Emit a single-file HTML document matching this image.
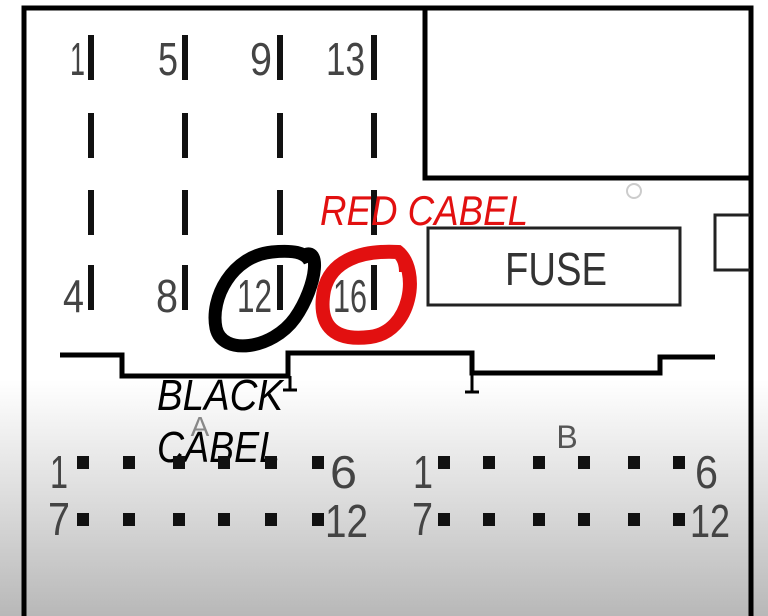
<!DOCTYPE html>
<html><head><meta charset="utf-8"><style>
html,body{margin:0;padding:0;width:768px;height:616px;overflow:hidden}
body{background:linear-gradient(to bottom,#fff 0px,#fff 380px,#dcdcdc 500px,#b8b8b8 616px)}
svg{position:absolute;left:0;top:0}
.n{font-family:"Liberation Sans",sans-serif;font-size:46px;fill:#444}
</style></head><body>
<svg width="768" height="616" viewBox="0 0 768 616">
<g stroke="#000" fill="none">
<path d="M24 620 V8 H751 V620" stroke-width="5"/>
<path d="M425 8 V178 H751" stroke-width="5"/>
<rect x="428" y="228" width="252" height="77" stroke-width="3" stroke="#222"/>
<path d="M750 215 H715 V270 H750" stroke-width="3" stroke="#222"/>
<path d="M60 355 H122 V376 H288 V353 H472 V373 H660 V357 H715" stroke-width="5"/>
<path d="M290 376 V390 M283 390 H297 M472 373 V392 M465 392 H479" stroke-width="3"/>
</g>
<circle cx="634" cy="191" r="7" fill="none" stroke="#ccc" stroke-width="2"/>
<g stroke="#111" stroke-width="6">
<path d="M91 35V80M185 35V80M280 35V80M374 35V80"/>
<path d="M91 113V158M185 113V158M280 113V158M374 113V158"/>
<path d="M91 190V235M185 190V235M280 190V235M374 190V235"/>
<path d="M91 265V310M185 265V310M280 265V310M374 265V310"/>
</g>
<g class="n" lengthAdjust="spacingAndGlyphs">
<text x="70" y="75" textLength="15" lengthAdjust="spacingAndGlyphs">1</text>
<text x="158" y="75" textLength="20" lengthAdjust="spacingAndGlyphs">5</text>
<text x="250" y="75" textLength="22" lengthAdjust="spacingAndGlyphs">9</text>
<text x="326" y="75" textLength="39" lengthAdjust="spacingAndGlyphs">13</text>
<text x="63" y="312" textLength="21" lengthAdjust="spacingAndGlyphs">4</text>
<text x="156" y="312" textLength="22" lengthAdjust="spacingAndGlyphs">8</text>
<text x="237" y="312" textLength="35" lengthAdjust="spacingAndGlyphs">12</text>
<text x="333" y="312" textLength="34" lengthAdjust="spacingAndGlyphs">16</text>
</g>
<text x="505" y="285" textLength="102" lengthAdjust="spacingAndGlyphs" font-family="Liberation Sans,sans-serif" font-size="46" fill="#333">FUSE</text>
<path d="M300 258 C322 240 318 285 295 318 C272 350 222 356 216 328 C210 298 232 256 272 252 C292 250 306 252 310 262" fill="none" stroke="#000" stroke-width="13"/>
<path d="M398 252 C420 270 412 332 370 337 C330 342 318 322 324 290 C331 260 362 250 398 252 C403 256 406 262 406 272" fill="none" stroke="#e21010" stroke-width="14"/>
<text x="320" y="225" textLength="208" lengthAdjust="spacingAndGlyphs" font-family="Liberation Sans,sans-serif" font-style="italic" font-size="42" fill="#e21010">RED CABEL</text>
<text x="200" y="436" font-family="Liberation Sans,sans-serif" font-size="28" fill="#888" text-anchor="middle">A</text>
<text x="567" y="448" font-family="Liberation Sans,sans-serif" font-size="32" fill="#555" text-anchor="middle">B</text>
<text x="157" y="410" textLength="126" lengthAdjust="spacingAndGlyphs" font-family="Liberation Sans,sans-serif" font-style="italic" font-size="44" fill="#000">BLACK</text>
<text x="157" y="462" textLength="123" lengthAdjust="spacingAndGlyphs" font-family="Liberation Sans,sans-serif" font-style="italic" font-size="44" fill="#000">CABEL</text>
<g fill="#111">
<rect x="77" y="456" width="12" height="13"/><rect x="123" y="456" width="12" height="13"/><rect x="173" y="456" width="12" height="13"/><rect x="218" y="456" width="12" height="13"/><rect x="265" y="456" width="12" height="13"/><rect x="312" y="456" width="12" height="13"/>
<rect x="77" y="513" width="12" height="13"/><rect x="123" y="513" width="12" height="13"/><rect x="173" y="513" width="12" height="13"/><rect x="218" y="513" width="12" height="13"/><rect x="265" y="513" width="12" height="13"/><rect x="312" y="513" width="12" height="13"/>
<rect x="438" y="456" width="12" height="13"/><rect x="483" y="456" width="12" height="13"/><rect x="533" y="456" width="12" height="13"/><rect x="578" y="456" width="12" height="13"/><rect x="628" y="456" width="12" height="13"/><rect x="673" y="456" width="12" height="13"/>
<rect x="438" y="513" width="12" height="13"/><rect x="483" y="513" width="12" height="13"/><rect x="533" y="513" width="12" height="13"/><rect x="578" y="513" width="12" height="13"/><rect x="628" y="513" width="12" height="13"/><rect x="673" y="513" width="12" height="13"/>
</g>
<g class="n">
<text x="50" y="488" textLength="18" lengthAdjust="spacingAndGlyphs">1</text>
<text x="330" y="488" textLength="27" lengthAdjust="spacingAndGlyphs">6</text>
<text x="48" y="535" textLength="22" lengthAdjust="spacingAndGlyphs">7</text>
<text x="325" y="537" textLength="43" lengthAdjust="spacingAndGlyphs">12</text>
<text x="413" y="488" textLength="20" lengthAdjust="spacingAndGlyphs">1</text>
<text x="695" y="488" textLength="23" lengthAdjust="spacingAndGlyphs">6</text>
<text x="412" y="535" textLength="21" lengthAdjust="spacingAndGlyphs">7</text>
<text x="690" y="537" textLength="40" lengthAdjust="spacingAndGlyphs">12</text>
</g>
</svg>
</body></html>
